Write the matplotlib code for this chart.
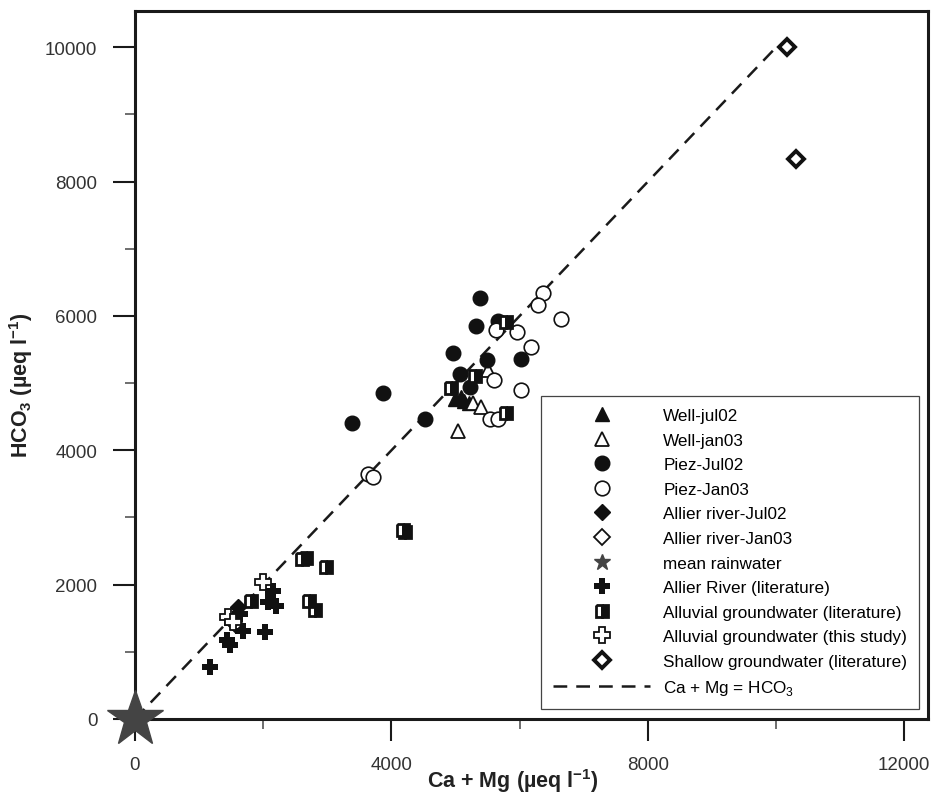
import matplotlib.pyplot as plt
from matplotlib.ticker import MultipleLocator

plt.rcParams['font.family'] = ['Liberation Sans', 'DejaVu Sans']
plt.rcParams['mathtext.fontset'] = 'custom'
plt.rcParams['mathtext.rm'] = 'Liberation Sans'
plt.rcParams['mathtext.bf'] = 'Liberation Sans:bold'

# Ca + Mg (x) et HCO3 (y), en µeq/l
well_jul02_x = [4990, 5080, 5130, 5210]
well_jul02_y = [4760, 4790, 4730, 4710]

well_jan03_x = [5514, 5280, 5400, 5046]
well_jan03_y = [5198, 4700, 4640, 4290]

piez_jul02_x = [5384, 5317, 4968, 3865, 3391, 4531, 5488, 6019, 5072, 5228, 5670]
piez_jul02_y = [6265, 5853, 5446, 4847, 4405, 4464, 5342, 5357, 5138, 4936, 5918]

piez_jan03_x = [6372, 6279, 6643, 5628, 5956, 6175, 5607, 6024, 5540, 5670, 3631, 3719]
piez_jan03_y = [6339, 6165, 5962, 5793, 5754, 5540, 5045, 4896, 4464, 4464, 3646, 3597]

allier_jul02_x = [1613]
allier_jul02_y = [1662]

allier_jan03_x = [1560]
allier_jan03_y = [1414]

rain_x = [0]
rain_y = [0]

allier_lit_x = [1170, 1430, 1480, 1690, 2030, 2150, 2080, 2200, 1640]
allier_lit_y = [770, 1170, 1100, 1310, 1300, 1900, 1740, 1680, 1560]

alluv_lit_x = [5790, 5306, 4926, 5785, 4213, 4177, 2669, 2601, 2981, 2720, 2809, 1805]
alluv_lit_y = [5913, 5109, 4921, 4554, 2790, 2820, 2391, 2381, 2266, 1761, 1627, 1761]

alluv_study_x = [2003, 1456, 1530]
alluv_study_y = [2034, 1513, 1440]

shallow_x = [10172, 10310]
shallow_y = [10000, 8333]

line_x = [0, 10000]
line_y = [0, 10000]

fig = plt.figure(figsize=(9.31, 8.03), dpi=100)
ax = fig.add_axes([0.145, 0.1034, 0.8518, 0.8816])

ax.plot(line_x, line_y, color='#1a1a1a', lw=1.8, dashes=(5.5, 3.6),
        label='Ca + Mg = HCO$_3$', zorder=2)

k = dict(ls='none', zorder=3)
ax.plot(well_jul02_x, well_jul02_y, marker='^', ms=10, color='#111111', label='Well-jul02', **k)
ax.plot(well_jan03_x, well_jan03_y, marker='^', ms=10, mfc='white', mec='#111111', mew=1.3,
        label='Well-jan03', **k)
ax.plot(piez_jul02_x, piez_jul02_y, marker='o', ms=10.5, color='#111111', label='Piez-Jul02', **k)
ax.plot(piez_jan03_x, piez_jan03_y, marker='o', ms=10.5, mfc='white', mec='#111111', mew=1.2,
        label='Piez-Jan03', **k)
ax.plot(allier_jul02_x, allier_jul02_y, marker='D', ms=8, color='#111111',
        label='Allier river-Jul02', **k)
ax.plot(allier_jan03_x, allier_jan03_y, marker='D', ms=8, mfc='white', mec='#111111', mew=1.3,
        label='Allier river-Jan03', **k)
ax.plot(rain_x, rain_y, marker='*', ms=42, color='#444444', clip_on=False,
        label='mean rainwater', ls='none', zorder=5)
ax.plot(allier_lit_x, allier_lit_y, marker='P', ms=11, color='#111111', mew=0,
        label='Allier River (literature)', **k)
ax.plot(alluv_lit_x, alluv_lit_y, marker='s', ms=9, fillstyle='left', mfc='white',
        mfcalt='#111111', mec='#111111', mew=2, label='Alluvial groundwater (literature)', **k)
ax.plot(alluv_study_x, alluv_study_y, marker='P', ms=11, mfc='white', mec='#111111', mew=1.3,
        label='Alluvial groundwater (this study)', **k)
ax.plot(shallow_x, shallow_y, marker='D', ms=8, mfc='white', mec='#111111', mew=2.8,
        label='Shallow groundwater (literature)', **k)

ax.set_xlim(0, 12370)
ax.set_ylim(0, 10540)
ax.xaxis.set_major_locator(MultipleLocator(4000))
ax.xaxis.set_minor_locator(MultipleLocator(2000))
ax.yaxis.set_major_locator(MultipleLocator(2000))
ax.yaxis.set_minor_locator(MultipleLocator(1000))

for s in ax.spines.values():
    s.set_linewidth(2.2)
    s.set_color('#1a1a1a')
ax.tick_params(which='major', direction='out', length=16, width=1.5, color='#1a1a1a',
               labelsize=13.5, labelcolor='#333333', pad=11)
ax.tick_params(which='minor', direction='out', length=7.5, width=1.2, color='#555555')

ax.set_xlabel(r'Ca + Mg (µeq l$^{\mathbf{-1}}$)', fontsize=15.5, fontweight='bold',
              color='#222222')
ax.set_ylabel(r'HCO$_{\mathbf{3}}$ (µeq l$^{\mathbf{-1}}$)', fontsize=15.5, fontweight='bold',
              color='#222222')
ax.xaxis.set_label_coords(0.477, -0.066)
ax.yaxis.set_label_coords(-0.126, 0.473)

handles, labels = ax.get_legend_handles_labels()
order = list(range(1, len(handles))) + [0]
leg = ax.legend([handles[i] for i in order], [labels[i] for i in order],
                loc='upper left', bbox_to_anchor=(0.512, 0.456), borderaxespad=0,
                fontsize=12.3, frameon=True, fancybox=False, edgecolor='#444444',
                framealpha=1, labelspacing=0.56, handlelength=5.7, handletextpad=0.75,
                borderpad=0.7)
leg.get_frame().set_linewidth(0.9)
for h, lab in zip(leg.legend_handles, [labels[i] for i in order]):
    if lab == 'mean rainwater':
        h.set_markersize(12)

fig.savefig('out.png', dpi=100)
